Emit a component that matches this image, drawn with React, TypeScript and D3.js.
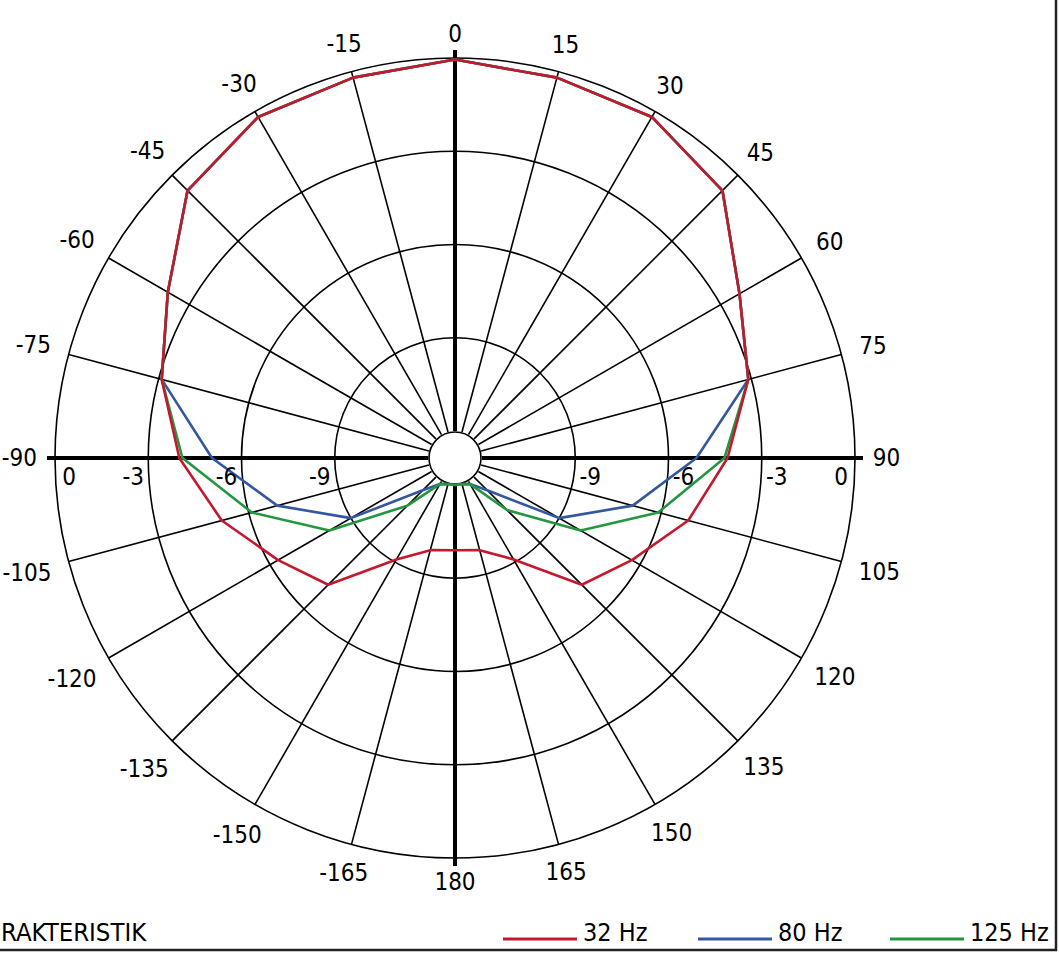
import React from "react";
import * as d3 from "d3";

// Angles (degrees, clockwise from top)
const angles = [0, 15, 30, 45, 60, 75, 90, 105, 120, 135, 150, 165, 180, 195, 210, 225, 240, 255, 270, 285, 300, 315, 330, 345];

// Level in dB at each angle
const hz32 = [-0.05, -0.2, -0.2, -0.7, -2.3, -3.1, -4.1, -5.1, -6.3, -7.1, -9.1, -9.8, -9.9, -9.8, -9.1, -7.1, -6.3, -5.1, -4.0, -3.1, -2.2, -0.7, -0.2, -0.2];
const hz80 = [-0.05, -0.2, -0.2, -0.7, -2.3, -3.1, -5.1, -6.95, -9.0, -11.4, -11.9, -12, -12, -12, -11.9, -11.4, -9.0, -6.95, -5.05, -3.1, -2.2, -0.7, -0.2, -0.2];
const hz125 = [-0.05, -0.2, -0.2, -0.7, -2.3, -3.1, -4.2, -6.1, -8.2, -10.5, -11.9, -12, -12, -12, -11.9, -10.7, -8.2, -6.1, -4.1, -3.1, -2.2, -0.7, -0.2, -0.2];

const series = [
  { name: "80 Hz", values: hz80, color: "#33589f" },
  { name: "125 Hz", values: hz125, color: "#23963f" },
  { name: "32 Hz", values: hz32, color: "#c4182f" },
];
const legendOrder = ["32 Hz", "80 Hz", "125 Hz"];

const ringLevels = [0, -3, -6, -9];
const spokeAngles = d3.range(0, 360, 15);
const labelAngles = d3.range(0, 360, 15);

const W = 1059;
const H = 955;
const cx = 455;
const cy = 458;
const FONT = "Tahoma, 'DejaVu Sans Condensed', 'Liberation Sans', sans-serif";

export default function App() {
  const r = d3.scaleLinear().domain([-12, 0]).range([27, 400]);
  const rad = (a: number) => (a * Math.PI) / 180;
  const pt = (a: number, rr: number) => [cx + rr * Math.sin(rad(a)), cy - rr * Math.cos(rad(a))];

  const line = d3
    .lineRadial<number>()
    .angle((_, i) => rad(angles[i]))
    .radius((d) => r(Math.max(-12, d)))
    .curve(d3.curveLinearClosed);

  const labelText = (a: number) => String(a <= 180 ? a : a - 360);
  const textW = (s: string) => s.split("").reduce((acc, c) => acc + (c === "-" ? 8 : 13.6), 0);

  const legendX: Record<string, number> = { "32 Hz": 503, "80 Hz": 698, "125 Hz": 890 };

  return (
    <svg
      width={W}
      height={H}
      style={{ position: "absolute", left: 0, top: 0, background: "#fff" }}
      fontFamily={FONT}
    >
      <rect x={0} y={0} width={W} height={H} fill="#fff" />
      {/* rings */}
      {ringLevels.map((lv) => (
        <circle key={lv} cx={cx} cy={cy} r={r(lv)} fill="none" stroke="#000" strokeWidth={1.6} />
      ))}
      {/* spokes */}
      {spokeAngles
        .filter((a) => a % 90 !== 0)
        .map((a) => {
          const [x1, y1] = pt(a, r(-12));
          const [x2, y2] = pt(a, r(0));
          return <line key={a} x1={x1} y1={y1} x2={x2} y2={y2} stroke="#000" strokeWidth={1.6} />;
        })}
      {/* main axes */}
      {[0, 90, 180, 270].map((a) => {
        const [x1, y1] = pt(a, r(-12));
        const [x2, y2] = pt(a, r(0) + 8);
        return <line key={a} x1={x1} y1={y1} x2={x2} y2={y2} stroke="#000" strokeWidth={4} />;
      })}
      {/* center hole */}
      <circle cx={cx} cy={cy} r={26} fill="#fff" stroke="#000" strokeWidth={1.6} />
      {/* curves */}
      <g transform={`translate(${cx},${cy})`}>
        {series.map((s) => (
          <path key={s.name} d={line(s.values) || ""} fill="none" stroke={s.color} strokeWidth={2.6} strokeLinejoin="round" />
        ))}
      </g>
      {/* dB labels */}
      {ringLevels.map((lv) => {
        const off = lv === 0 ? -14 : 15;
        const d = r(lv) + off;
        return (
          <g key={"db" + lv}>
            <text x={cx - d} y={cy + 27} textAnchor="middle" fontSize={24} fill="#000">
              {lv}
            </text>
            <text x={cx + d} y={cy + 27} textAnchor="middle" fontSize={24} fill="#000">
              {lv}
            </text>
          </g>
        );
      })}
      {/* angle labels */}
      {labelAngles.map((a) => {
        const t = labelText(a);
        const w = textW(t);
        const rr = 418 + Math.abs(Math.sin(rad(a))) * (w / 2) + Math.abs(Math.cos(rad(a))) * 6;
        const [x, y] = pt(a, rr);
        return (
          <text key={"a" + a} x={x} y={y} textAnchor="middle" dominantBaseline="central" fontSize={24} fill="#000">
            {t}
          </text>
        );
      })}
      {/* footer */}
      <text x={1} y={941} fontSize={25.5} fill="#000">
        RAKTERISTIK
      </text>
      {legendOrder.map((name) => {
        const s = series.find((q) => q.name === name)!;
        const x0 = legendX[name];
        return (
          <g key={"lg" + name}>
            <line x1={x0} y1={939} x2={x0 + 74} y2={939} stroke={s.color} strokeWidth={3} />
            <text x={x0 + 80} y={941} fontSize={25} fill="#000">
              {name}
            </text>
          </g>
        );
      })}
      {/* frame */}
      <line x1={0} y1={950} x2={1057} y2={950} stroke="#222" strokeWidth={2.5} />
      <line x1={1056} y1={0} x2={1056} y2={951} stroke="#222" strokeWidth={2.5} />
    </svg>
  );
}
